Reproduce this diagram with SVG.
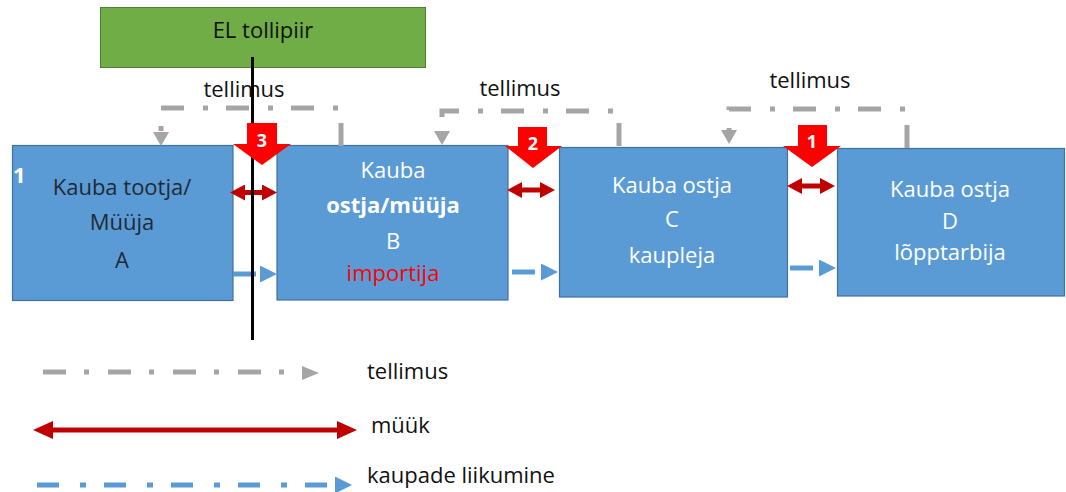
<svg xmlns="http://www.w3.org/2000/svg" width="1066" height="492" viewBox="0 0 1066 492">
  <style>
    text { font-family: "Open Sans", "Noto Sans", "Liberation Sans", sans-serif; font-size: 22px; }
    .box { fill: #5B9BD5; stroke: #41719C; stroke-width: 1.2; }
    .light { fill: #FFFFFF; text-anchor: middle; }
    .dark { fill: #1E2A36; text-anchor: middle; }
    .label { fill: #111111; }
    .order { fill: none; stroke: #A5A5A5; stroke-width: 5; stroke-dasharray: 23 18 5 19; }
    .sale { fill: none; stroke: #C00000; stroke-width: 5; }
    .goods { fill: none; stroke: #5B9BD5; stroke-width: 5; }
    .goods-dash { stroke-dasharray: 22 21 6 18; }
    .step { fill: #FF0000; }
    .stepnum { fill: #FFFFFF; font-weight: bold; font-size: 18px; text-anchor: middle; }
  </style>
  <defs>
    <marker id="grayDown" markerUnits="userSpaceOnUse" markerWidth="14" markerHeight="16" viewBox="0 0 14 16" refX="0" refY="8" orient="auto">
      <path d="M0,0 L14,8 L0,16 z" fill="#A5A5A5"/>
    </marker>
    <marker id="grayTri" markerUnits="userSpaceOnUse" markerWidth="17" markerHeight="14" viewBox="0 0 17 14" refX="0" refY="7" orient="auto">
      <path d="M0,0 L17,7 L0,14 z" fill="#A5A5A5"/>
    </marker>
    <marker id="redSmall" markerUnits="userSpaceOnUse" markerWidth="15" markerHeight="16" viewBox="0 0 15 16" refX="0" refY="8" orient="auto-start-reverse">
      <path d="M0,0 L15,8 L0,16 z" fill="#C00000"/>
    </marker>
    <marker id="redBig" markerUnits="userSpaceOnUse" markerWidth="20" markerHeight="18" viewBox="0 0 20 18" refX="0" refY="9" orient="auto-start-reverse">
      <path d="M0,0 L20,9 L0,18 z" fill="#C00000"/>
    </marker>
    <marker id="blueTri" markerUnits="userSpaceOnUse" markerWidth="17" markerHeight="17" viewBox="0 0 17 17" refX="0" refY="8.5" orient="auto">
      <path d="M0,0 L17,8.5 L0,17 z" fill="#5B9BD5"/>
    </marker>
  </defs>

  <!-- customs border box -->
  <g id="customs-border">
    <rect x="100.5" y="7.5" width="325" height="60" fill="#70AD47" stroke="#507E32" stroke-width="1"/>
    <text class="label" x="263" y="38" text-anchor="middle">EL tollipiir</text>
  </g>

  <!-- parties -->
  <g id="node-a">
    <rect class="box" x="12.5" y="145.5" width="220.5" height="155"/>
    <text x="13" y="183" fill="#FFFFFF" font-weight="bold" font-size="16">1</text>
    <text class="dark" x="122" y="195">Kauba tootja/</text>
    <text class="dark" x="122" y="230">Müüja</text>
    <text class="dark" x="122" y="268">A</text>
  </g>
  <g id="node-b">
    <rect class="box" x="277" y="145.5" width="231" height="154.5"/>
    <text class="light" x="393" y="178">Kauba</text>
    <text class="light" x="393" y="213" font-weight="bold">ostja/müüja</text>
    <text class="light" x="393" y="249">B</text>
    <text x="393" y="281" fill="#FF0000" text-anchor="middle">importija</text>
  </g>
  <g id="node-c">
    <rect class="box" x="559.5" y="147.5" width="228" height="149.5"/>
    <text class="light" x="672" y="193">Kauba ostja</text>
    <text class="light" x="672" y="227">C</text>
    <text class="light" x="672" y="263">kaupleja</text>
  </g>
  <g id="node-d">
    <rect class="box" x="837.5" y="148.5" width="227" height="147.5"/>
    <text class="light" x="950" y="197">Kauba ostja</text>
    <text class="light" x="950" y="229">D</text>
    <text class="light" x="950" y="260">lõpptarbija</text>
  </g>

  <!-- connectors -->
  <g id="connectors">
    <!-- orders -->
    <path class="order" d="M341,146 V108 H161 V132" marker-end="url(#grayDown)"/>
    <path class="order" d="M619,146 V111 H442 V131" marker-end="url(#grayDown)"/>
    <path class="order" d="M907,148 V109 H729 V130" marker-end="url(#grayDown)"/>
    <text class="label" x="244" y="97" text-anchor="middle">tellimus</text>
    <text class="label" x="520" y="96" text-anchor="middle">tellimus</text>
    <text class="label" x="810" y="88" text-anchor="middle">tellimus</text>

    <!-- sales -->
    <line class="sale" x1="245" y1="192.5" x2="262" y2="192.5" marker-start="url(#redSmall)" marker-end="url(#redSmall)"/>
    <line class="sale" x1="522" y1="190" x2="540" y2="190" marker-start="url(#redSmall)" marker-end="url(#redSmall)"/>
    <line class="sale" x1="802" y1="186" x2="820" y2="186" marker-start="url(#redSmall)" marker-end="url(#redSmall)"/>

    <!-- goods flow -->
    <line class="goods" x1="233" y1="274" x2="256" y2="274"/>
    <line class="goods" x1="256" y1="274" x2="260" y2="274" stroke-opacity="0" marker-end="url(#blueTri)"/>
    <line class="goods" x1="512" y1="272" x2="535" y2="272"/>
    <line class="goods" x1="535" y1="272" x2="541" y2="272" stroke-opacity="0" marker-end="url(#blueTri)"/>
    <line class="goods" x1="790" y1="268" x2="813" y2="268"/>
    <line class="goods" x1="813" y1="268" x2="819" y2="268" stroke-opacity="0" marker-end="url(#blueTri)"/>
  </g>

  <!-- border line -->
  <line id="border-line" x1="252.5" y1="57" x2="252.5" y2="340" stroke="#000000" stroke-width="3"/>

  <!-- numbered steps -->
  <g id="step-3">
    <polygon class="step" points="247,123 277,123 277,144 291,144 262,165 233,144 247,144"/>
    <text class="stepnum" x="262" y="147">3</text>
  </g>
  <g id="step-2">
    <polygon class="step" points="518,127 547,127 547,146 562,146 533,168 505,146 518,146"/>
    <text class="stepnum" x="533" y="150">2</text>
  </g>
  <g id="step-1">
    <polygon class="step" points="798,125 827,125 827,146 841,146 812,167 783,146 798,146"/>
    <text class="stepnum" x="812" y="148">1</text>
  </g>

  <!-- legend -->
  <g id="legend">
    <path class="order" d="M43,372 H300" stroke-width="6"/>
    <line x1="300" y1="373" x2="302" y2="373" stroke="#A5A5A5" stroke-opacity="0" marker-end="url(#grayTri)"/>
    <text class="label" x="367" y="379">tellimus</text>

    <line class="sale" x1="53" y1="430" x2="337" y2="430" marker-start="url(#redBig)" marker-end="url(#redBig)"/>
    <text class="label" x="371" y="433">müük</text>

    <path class="goods goods-dash" d="M37,485 H330"/>
    <line x1="333" y1="485" x2="335" y2="485" stroke="#5B9BD5" stroke-opacity="0" marker-end="url(#blueTri)"/>
    <text class="label" x="367" y="483">kaupade liikumine</text>
  </g>
</svg>
